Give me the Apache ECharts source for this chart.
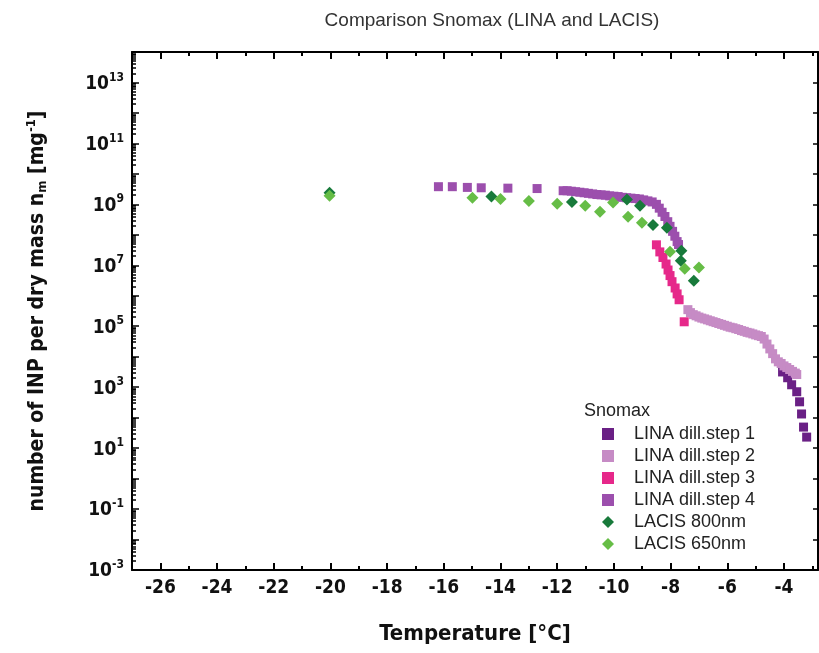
<!DOCTYPE html>
<html>
<head>
<meta charset="utf-8">
<script src="https://cdn.jsdelivr.net/npm/echarts@6/dist/echarts.min.js"></script>
<style>
html, body { margin: 0; padding: 0; background: #fff; }
#chart { width: 819px; height: 653px; }
</style>
</head>
<body>
<div id="chart"></div>
<script>
// data: [temperature degC, n_m per mg]
var lina1 = [[-4.05, 3160], [-3.87, 2040], [-3.73, 1200], [-3.55, 708], [-3.45, 331],
    [-3.38, 132], [-3.31, 49], [-3.20, 23]];
var lina2 = [[-7.39, 3.5e5], [-7.3, 2.8e5], [-7.2, 2.4e5], [-7.1, 2.2e5], [-7.0, 2.0e5],
    [-6.9, 1.85e5], [-6.8, 1.74e5], [-6.7, 1.62e5], [-6.6, 1.51e5], [-6.5, 1.41e5],
    [-6.4, 1.32e5], [-6.3, 1.23e5], [-6.2, 1.15e5], [-6.1, 1.07e5], [-6.0, 1.0e5],
    [-5.9, 9.3e4], [-5.8, 8.9e4], [-5.7, 8.3e4], [-5.6, 7.8e4], [-5.5, 7.2e4],
    [-5.4, 6.8e4], [-5.3, 6.3e4], [-5.2, 6.0e4], [-5.1, 5.6e4], [-5.0, 5.2e4],
    [-4.9, 4.9e4], [-4.8, 4.6e4], [-4.7, 3.8e4], [-4.6, 2.6e4], [-4.5, 1.8e4],
    [-4.4, 1.26e4], [-4.3, 8.5e3], [-4.2, 6.8e3], [-4.1, 6.0e3], [-4.0, 5.0e3],
    [-3.9, 4.4e3], [-3.8, 3.8e3], [-3.7, 3.3e3], [-3.6, 2.9e3], [-3.55, 2.6e3]];
var lina3 = [[-8.50, 4.7e7], [-8.38, 2.75e7], [-8.27, 1.8e7], [-8.16, 1.1e7], [-8.09, 7.0e6],
    [-8.02, 4.6e6], [-7.95, 2.9e6], [-7.84, 1.8e6], [-7.77, 1.15e6], [-7.70, 7.4e5],
    [-7.52, 1.4e5]];
var lina4 = [[-16.19, 3.8e9], [-15.70, 3.8e9], [-15.17, 3.6e9], [-14.68, 3.5e9], [-13.74, 3.4e9],
    [-12.71, 3.3e9], [-11.79, 2.8e9], [-11.65, 2.8e9], [-11.5, 2.7e9], [-11.35, 2.6e9],
    [-11.2, 2.5e9], [-11.05, 2.4e9], [-10.9, 2.3e9], [-10.75, 2.2e9], [-10.6, 2.1e9],
    [-10.45, 2.05e9], [-10.3, 2.0e9], [-10.15, 1.9e9], [-10.0, 1.85e9], [-9.85, 1.8e9],
    [-9.7, 1.7e9], [-9.55, 1.65e9], [-9.4, 1.6e9], [-9.25, 1.55e9], [-9.1, 1.5e9],
    [-8.95, 1.4e9], [-8.8, 1.3e9], [-8.65, 1.2e9], [-8.5, 1.0e9], [-8.4, 7.5e8],
    [-8.3, 5.5e8], [-8.2, 4.0e8], [-8.1, 2.7e8], [-8.02, 1.9e8], [-7.93, 1.3e8],
    [-7.85, 9.0e7], [-7.77, 6.0e7], [-7.72, 4.8e7]];
var lacis800 = [[-20.03, 2.4e9], [-14.32, 1.8e9], [-11.48, 1.2e9], [-9.54, 1.45e9], [-9.08, 9.0e8],
    [-8.62, 2.1e8], [-8.13, 1.7e8], [-7.62, 3.0e7], [-7.64, 1.4e7], [-7.18, 3.1e6]];
var lacis650 = [[-20.03, 1.9e9], [-14.99, 1.65e9], [-14.0, 1.5e9], [-13.0, 1.3e9], [-12.0, 1.05e9],
    [-11.01, 9.0e8], [-10.49, 5.7e8], [-10.03, 1.15e9], [-9.5, 3.9e8], [-9.01, 2.5e8],
    [-8.02, 2.8e7], [-7.5, 7.7e6], [-7.0, 8.4e6]];

var seriesNames = ['LINA dill.step 1', 'LINA dill.step 2', 'LINA dill.step 3', 'LINA dill.step 4',
    'LACIS 800nm', 'LACIS 650nm'];

// tick positions
var xMajorTicks = [-26, -24, -22, -20, -18, -16, -14, -12, -10, -8, -6, -4];
var xMinorTicks = [-27, -25, -23, -21, -19, -17, -15, -13, -11, -9, -7, -5, -3];
var yLabelExps = [-3, -1, 1, 3, 5, 7, 9, 11, 13];

var yMin = 1e-3, yMax = 1e14;
var yDecades = [], yMinor = [];
for (var e = -3; e <= 14; e++) {
    yDecades.push(Math.pow(10, e));
    if (e < 14) {
        for (var k = 2; k <= 9; k++) yMinor.push(k * Math.pow(10, e));
    }
}
var yLabelValues = yLabelExps.map(function (e) { return Math.pow(10, e); });

var tickFont = "'DejaVu Sans Condensed', 'Liberation Sans Narrow', sans-serif";
var plainFont = "'Liberation Sans', Arial, sans-serif";

var myChart = echarts.init(document.getElementById('chart'));

function xAx(pos, ticks, len, showLine, showLabel) {
    return {
        type: 'value', position: pos, min: -27, max: -2.8,
        axisLine: { show: showLine, onZero: false, lineStyle: { color: '#000', width: 2 } },
        axisTick: { show: true, inside: true, length: len, customValues: ticks,
            lineStyle: { color: '#000', width: 2 } },
        axisLabel: showLabel ? {
            show: true, customValues: ticks, margin: 9,
            fontFamily: tickFont, fontWeight: 'bold', fontSize: 19, color: '#111'
        } : { show: false },
        splitLine: { show: false }
    };
}
function yAx(pos, ticks, len, showLine) {
    return {
        type: 'log', logBase: 10, position: pos, min: yMin, max: yMax,
        axisLine: { show: showLine, onZero: false, lineStyle: { color: '#000', width: 2 } },
        axisTick: { show: true, inside: true, length: len, customValues: ticks,
            lineStyle: { color: '#000', width: 1.5 } },
        axisLabel: { show: false },
        splitLine: { show: false }
    };
}

var xAxes = [xAx('bottom', xMajorTicks, 7, true, true), xAx('bottom', xMinorTicks, 4, false, false),
    xAx('top', xMajorTicks, 7, true, false), xAx('top', xMinorTicks, 4, false, false)];
xAxes[0].name = 'Temperature [°C]';
xAxes[0].nameLocation = 'middle';
xAxes[0].nameGap = 53;
xAxes[0].nameTextStyle = { fontFamily: tickFont, fontWeight: 'bold', fontSize: 22, color: '#111' };

var yAxes = [yAx('left', yDecades, 7, true), yAx('left', yMinor, 4, false),
    yAx('right', yDecades, 5, true)];
yAxes[0].axisLabel = {
    show: true, customValues: yLabelValues, margin: 8,
    formatter: function (v) {
        var p = Math.round(Math.log10(v));
        return '{b|10}{s|' + p + '}';
    },
    rich: {
        b: { fontFamily: tickFont, fontWeight: 'bold', fontSize: 19, color: '#111',
            verticalAlign: 'bottom' },
        s: { fontFamily: tickFont, fontWeight: 'bold', fontSize: 12, color: '#111',
            verticalAlign: 'bottom', padding: [0, 0, 10, 0] }
    }
};
yAxes[0].name = 'number of INP per dry mass n{sub|m} [mg{sup|-1}]';
yAxes[0].nameLocation = 'middle';
yAxes[0].nameGap = 82;
yAxes[0].nameTextStyle = {
    fontFamily: tickFont, fontWeight: 'bold', fontSize: 21, color: '#111',
    rich: {
        sub: { fontFamily: tickFont, fontWeight: 'bold', fontSize: 13, color: '#111',
            padding: [10, 0, 0, 0] },
        sup: { fontFamily: tickFont, fontWeight: 'bold', fontSize: 13, color: '#111',
            padding: [0, 0, 12, 0] }
    }
};

function squares(name, data, color) {
    return {
        name: name, type: 'scatter', data: data, symbol: 'rect', symbolSize: 9,
        itemStyle: { color: color, opacity: 1 }
    };
}
function diamonds(name, data, color) {
    return {
        name: name, type: 'scatter', data: data, symbol: 'diamond', symbolSize: 12,
        itemStyle: { color: color, opacity: 1 }
    };
}

var option = {
    animation: false,
    backgroundColor: '#fff',
    title: [{
        text: 'Comparison Snomax (LINA and LACIS)',
        left: 487, top: 6, textAlign: 'center',
        textStyle: { fontFamily: plainFont, fontWeight: 'normal', fontSize: 19, color: '#333' }
    }, {
        text: 'Snomax',
        left: 579, top: 397,
        textStyle: { fontFamily: plainFont, fontWeight: 'normal', fontSize: 18, color: '#222' }
    }],
    grid: { left: 132, right: 1, top: 52, bottom: 83, containLabel: false },
    legend: {
        orient: 'vertical', left: 597, top: 420,
        itemWidth: 12, itemHeight: 12, itemGap: 4,
        data: seriesNames,
        textStyle: { fontFamily: plainFont, fontSize: 18, color: '#222', lineHeight: 18,
            padding: [0, 0, 0, 15] }
    },
    xAxis: xAxes,
    yAxis: yAxes,
    series: [
        squares(seriesNames[0], lina1, '#6a2085'),
        squares(seriesNames[1], lina2, '#c68bc5'),
        squares(seriesNames[2], lina3, '#e6288a'),
        squares(seriesNames[3], lina4, '#9c4fad'),
        diamonds(seriesNames[4], lacis800, '#187a3b'),
        diamonds(seriesNames[5], lacis650, '#66bd46')
    ]
};
if (option && typeof option === "object") {
    myChart.setOption(option, true);
}
</script>
</body>
</html>
